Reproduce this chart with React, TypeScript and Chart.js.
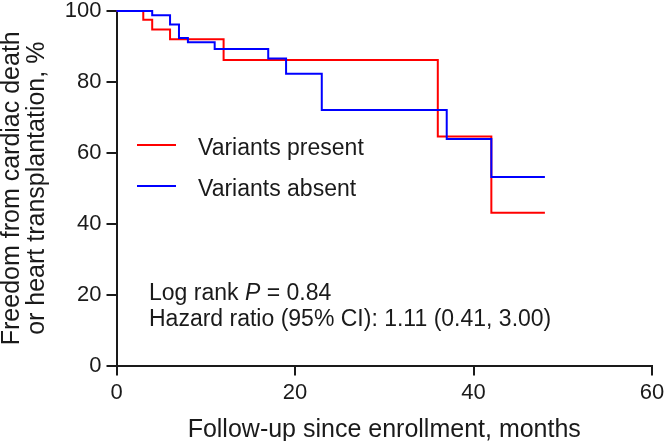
import React, { useEffect, useRef } from 'react';
import { Chart, registerables } from 'chart.js';

Chart.register(...registerables);

// ---- data ----
const presentMonths = [0, 3, 4, 6, 12, 36, 42, 48];
const presentSurvival = [100, 97.5, 94.8, 92.0, 86.2, 64.6, 43.1, 43.1];
const absentMonths = [0, 4, 6, 7, 8, 11, 17, 19, 23, 37, 42, 48];
const absentSurvival = [100, 98.8, 96.2, 92.4, 91.2, 89.3, 86.6, 82.3, 72.1, 63.9, 53.2, 53.2];
const xTicks = [0, 20, 40, 60];
const yTicks = [0, 20, 40, 60, 80, 100];
const seriesLabels = ['Variants present', 'Variants absent'];
const xTitle = 'Follow-up since enrollment, months';
const yTitle = ['Freedom from cardiac death', 'or heart transplantation, %'];
const logRankParts = ['Log rank ', 'P', ' = 0.84'];
const hazardText = 'Hazard ratio (95% CI): 1.11 (0.41, 3.00)';

const FONT = '"Liberation Sans", Arial, sans-serif';
const INK = '#1a1a1a';
const RED = '#ff0000';
const BLUE = '#0000ff';

const overlay = {
  id: 'overlay',
  afterDraw(chart: any) {
    const { ctx } = chart;
    ctx.save();
    ctx.textBaseline = 'alphabetic';
    ctx.textAlign = 'left';
    // legend
    const items = [
      { label: seriesLabels[0], color: RED, y: 145 },
      { label: seriesLabels[1], color: BLUE, y: 186 },
    ];
    items.forEach((it) => {
      ctx.strokeStyle = it.color;
      ctx.lineWidth = 2;
      ctx.beginPath();
      ctx.moveTo(137, it.y);
      ctx.lineTo(176, it.y);
      ctx.stroke();
      ctx.fillStyle = INK;
      ctx.font = `23px ${FONT}`;
      ctx.fillText(it.label, 198, it.y + 10);
    });
    // stats
    let x = 149;
    const y1 = 300;
    ctx.fillStyle = INK;
    ctx.font = `23px ${FONT}`;
    ctx.fillText(logRankParts[0], x, y1);
    x += ctx.measureText(logRankParts[0]).width;
    ctx.font = `italic 23px ${FONT}`;
    ctx.fillText(logRankParts[1], x, y1);
    x += ctx.measureText(logRankParts[1]).width;
    ctx.font = `23px ${FONT}`;
    ctx.fillText(logRankParts[2], x, y1);
    ctx.fillText(hazardText, 149, 326);
    ctx.restore();
  },
};

export default function App() {
  const ref = useRef<HTMLCanvasElement>(null);
  useEffect(() => {
    if (!ref.current) return;
    const chart = new Chart(ref.current, {
      type: 'line',
      data: {
        datasets: [
          {
            label: seriesLabels[0],
            data: presentMonths.map((m, i) => ({ x: m, y: presentSurvival[i] })),
            borderColor: RED,
            borderWidth: 2,
            pointRadius: 0,
            stepped: 'before',
            fill: false,
            clip: false,
            order: 2,
          },
          {
            label: seriesLabels[1],
            data: absentMonths.map((m, i) => ({ x: m, y: absentSurvival[i] })),
            borderColor: BLUE,
            borderWidth: 2,
            pointRadius: 0,
            stepped: 'before',
            fill: false,
            clip: false,
            order: 1,
          },
        ],
      },
      options: {
        responsive: false,
        animation: false,
        devicePixelRatio: 1,
        layout: { padding: { top: 11, right: 12, left: 0, bottom: 0 } },
        plugins: { legend: { display: false }, tooltip: { enabled: false } },
        scales: {
          x: {
            type: 'linear',
            min: 0,
            max: 60,
            afterBuildTicks: (s: any) => {
              s.ticks = xTicks.map((v) => ({ value: v }));
            },
            afterFit: (s: any) => {
              s.height = 75.5;
              s.paddingLeft = 0;
              s.paddingRight = 0;
            },
            grid: { drawOnChartArea: false, drawTicks: true, tickLength: 10, color: INK, lineWidth: 2 },
            border: { display: true, color: INK, width: 2 },
            ticks: { color: INK, font: { family: FONT, size: 22, lineHeight: 1 }, padding: 6, maxRotation: 0 },
            title: {
              display: true,
              text: xTitle,
              color: INK,
              font: { family: FONT, size: 25, lineHeight: 0.84 },
              padding: 0,
            },
          },
          y: {
            type: 'linear',
            min: 0,
            max: 100,
            afterBuildTicks: (s: any) => {
              s.ticks = yTicks.map((v) => ({ value: v }));
            },
            afterFit: (s: any) => {
              s.width = 116.5;
              s.paddingTop = 0;
              s.paddingBottom = 0;
            },
            grid: { drawOnChartArea: false, drawTicks: true, tickLength: 10, color: INK, lineWidth: 2 },
            border: { display: true, color: INK, width: 2 },
            ticks: { color: INK, font: { family: FONT, size: 22, lineHeight: 1 }, padding: 5 },
            title: {
              display: true,
              text: yTitle,
              color: INK,
              font: { family: FONT, size: 25, lineHeight: 1.0 },
              padding: 0,
            },
          },
        },
      },
      plugins: [overlay],
    } as any);
    return () => chart.destroy();
  }, []);
  return (
    <div style={{ position: 'fixed', left: 0, top: 0, width: 664, height: 441, background: '#fff' }}>
      <canvas ref={ref} width={664} height={441} style={{ width: 664, height: 441 }} />
    </div>
  );
}
